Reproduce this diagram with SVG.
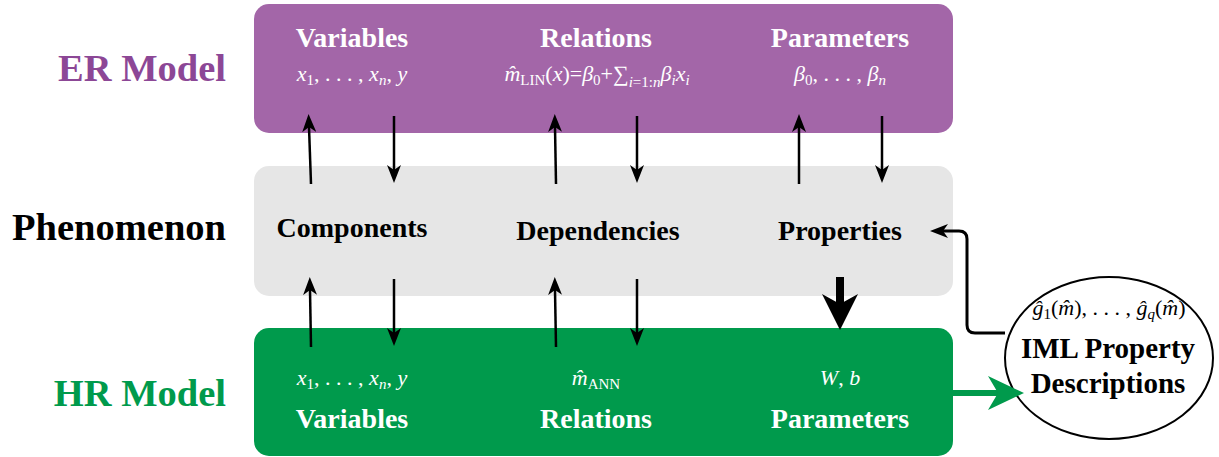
<svg xmlns="http://www.w3.org/2000/svg" width="1219" height="457" viewBox="0 0 1219 457" font-family="Liberation Serif, serif">
<defs>
<marker id="ah" viewBox="0 0 18 14" refX="5" refY="7" markerWidth="18" markerHeight="14" markerUnits="userSpaceOnUse" orient="auto">
<path d="M0,0 L18,7 L0,14 L5,7 Z" fill="#000" stroke="none"/>
</marker>
<marker id="ahBig" viewBox="0 0 36 36" refX="10" refY="18" markerWidth="36" markerHeight="36" markerUnits="userSpaceOnUse" orient="auto">
<path d="M0,0 L36,18 L0,36 L10,18 Z" fill="#000" stroke="none"/>
</marker>
<marker id="ahGreen" viewBox="0 0 36 34" refX="10" refY="17" markerWidth="36" markerHeight="34" markerUnits="userSpaceOnUse" orient="auto">
<path d="M0,0 L36,17 L0,34 L10,17 Z" fill="#009A4C" stroke="none"/>
</marker>
</defs>
<rect width="1219" height="457" fill="#fff"/>

<g id="row-labels" font-family="Liberation Serif, serif" font-weight="bold" font-size="38.5" text-anchor="end">
<text x="226" y="81" fill="#8C4796">ER Model</text>
<text x="226" y="240" fill="#000">Phenomenon</text>
<text x="226" y="406" fill="#009A4C">HR Model</text>
</g>

<g id="er-model" font-family="Liberation Serif, serif" text-anchor="middle" fill="#fff">
<rect x="254" y="4" width="699" height="129" rx="15" fill="#A366A8"/>
<g font-weight="bold" font-size="28">
<text x="352" y="47">Variables</text>
<text x="596" y="47">Relations</text>
<text x="840" y="47">Parameters</text>
</g>
<g font-size="22">
<text x="352" y="81"><tspan font-style="italic">x</tspan><tspan font-size="15" dy="4">1</tspan><tspan dy="-4">, . . . , </tspan><tspan font-style="italic">x</tspan><tspan font-size="15" font-style="italic" dy="4">n</tspan><tspan dy="-4">, </tspan><tspan font-style="italic">y</tspan></text>
<text x="597" y="81"><tspan font-style="italic">m&#x302;</tspan><tspan font-size="15" dy="4">LIN</tspan><tspan dy="-4">(</tspan><tspan font-style="italic">x</tspan><tspan>)=</tspan><tspan font-style="italic">&#x3B2;</tspan><tspan font-size="15" dy="4">0</tspan><tspan dy="-4">+&#x2211;</tspan><tspan font-size="15" dy="6"><tspan font-style="italic">i</tspan>=1:<tspan font-style="italic">n</tspan></tspan><tspan font-style="italic" dy="-6">&#x3B2;</tspan><tspan font-size="15" font-style="italic" dy="4">i</tspan><tspan font-style="italic" dy="-4">x</tspan><tspan font-size="15" font-style="italic" dy="4">i</tspan></text>
<text x="840" y="81"><tspan font-style="italic">&#x3B2;</tspan><tspan font-size="15" dy="4">0</tspan><tspan dy="-4">, . . . , </tspan><tspan font-style="italic">&#x3B2;</tspan><tspan font-size="15" font-style="italic" dy="4">n</tspan></text>
</g>
</g>

<g id="phenomenon" font-family="Liberation Serif, serif" text-anchor="middle" fill="#000" font-weight="bold" font-size="28">
<rect x="254" y="166" width="699" height="130" rx="15" fill="#E6E6E6"/>
<text x="352" y="237">Components</text>
<text x="598" y="240">Dependencies</text>
<text x="840" y="240">Properties</text>
</g>

<g id="hr-model" font-family="Liberation Serif, serif" text-anchor="middle" fill="#fff">
<rect x="254" y="328" width="699" height="128" rx="15" fill="#009A4C"/>
<g font-size="22">
<text x="352" y="385"><tspan font-style="italic">x</tspan><tspan font-size="15" dy="4">1</tspan><tspan dy="-4">, . . . , </tspan><tspan font-style="italic">x</tspan><tspan font-size="15" font-style="italic" dy="4">n</tspan><tspan dy="-4">, </tspan><tspan font-style="italic">y</tspan></text>
<text x="596" y="385"><tspan font-style="italic">m&#x302;</tspan><tspan font-size="15" dy="4">ANN</tspan></text>
<text x="840" y="385"><tspan font-style="italic">W</tspan><tspan>, </tspan><tspan font-style="italic">b</tspan></text>
</g>
<g font-weight="bold" font-size="28">
<text x="352" y="428">Variables</text>
<text x="596" y="428">Relations</text>
<text x="840" y="428">Parameters</text>
</g>
</g>

<g id="iml-property-descriptions" font-family="Liberation Serif, serif" text-anchor="middle" fill="#000">
<ellipse cx="1109" cy="358" rx="104" ry="81" fill="#fff" stroke="#000" stroke-width="2"/>
<text x="1109" y="315" font-size="22"><tspan font-style="italic">g&#x302;</tspan><tspan font-size="15" dy="4">1</tspan><tspan dy="-4">(</tspan><tspan font-style="italic">m&#x302;</tspan><tspan>), . . . , </tspan><tspan font-style="italic">g&#x302;</tspan><tspan font-size="15" font-style="italic" dy="4">q</tspan><tspan dy="-4">(</tspan><tspan font-style="italic">m&#x302;</tspan><tspan>)</tspan></text>
<text x="1108" y="358" font-weight="bold" font-size="29">IML Property</text>
<text x="1108" y="393" font-weight="bold" font-size="29">Descriptions</text>
</g>

<g id="connectors" fill="none">
<g stroke="#000" stroke-width="2.5" marker-end="url(#ah)">
<path d="M311,184 L309,127"/>
<path d="M394,116 L394,170"/>
<path d="M556,184 L555,127"/>
<path d="M637,116 L637,170"/>
<path d="M799,184 L799,127"/>
<path d="M882,116 L882,170"/>
<path d="M311,347 L310,290"/>
<path d="M394,279 L394,333"/>
<path d="M556,347 L555,290"/>
<path d="M637,279 L637,333"/>
</g>
<path d="M840,277 L840,304" stroke="#000" stroke-width="8" marker-end="url(#ahBig)"/>
<path d="M1005,333 H975 Q967,333 967,325 V239 Q967,231 959,231 H943" stroke="#000" stroke-width="3" marker-end="url(#ah)"/>
<path d="M953,393 L998,393" stroke="#009A4C" stroke-width="6" marker-end="url(#ahGreen)"/>
</g>
</svg>
